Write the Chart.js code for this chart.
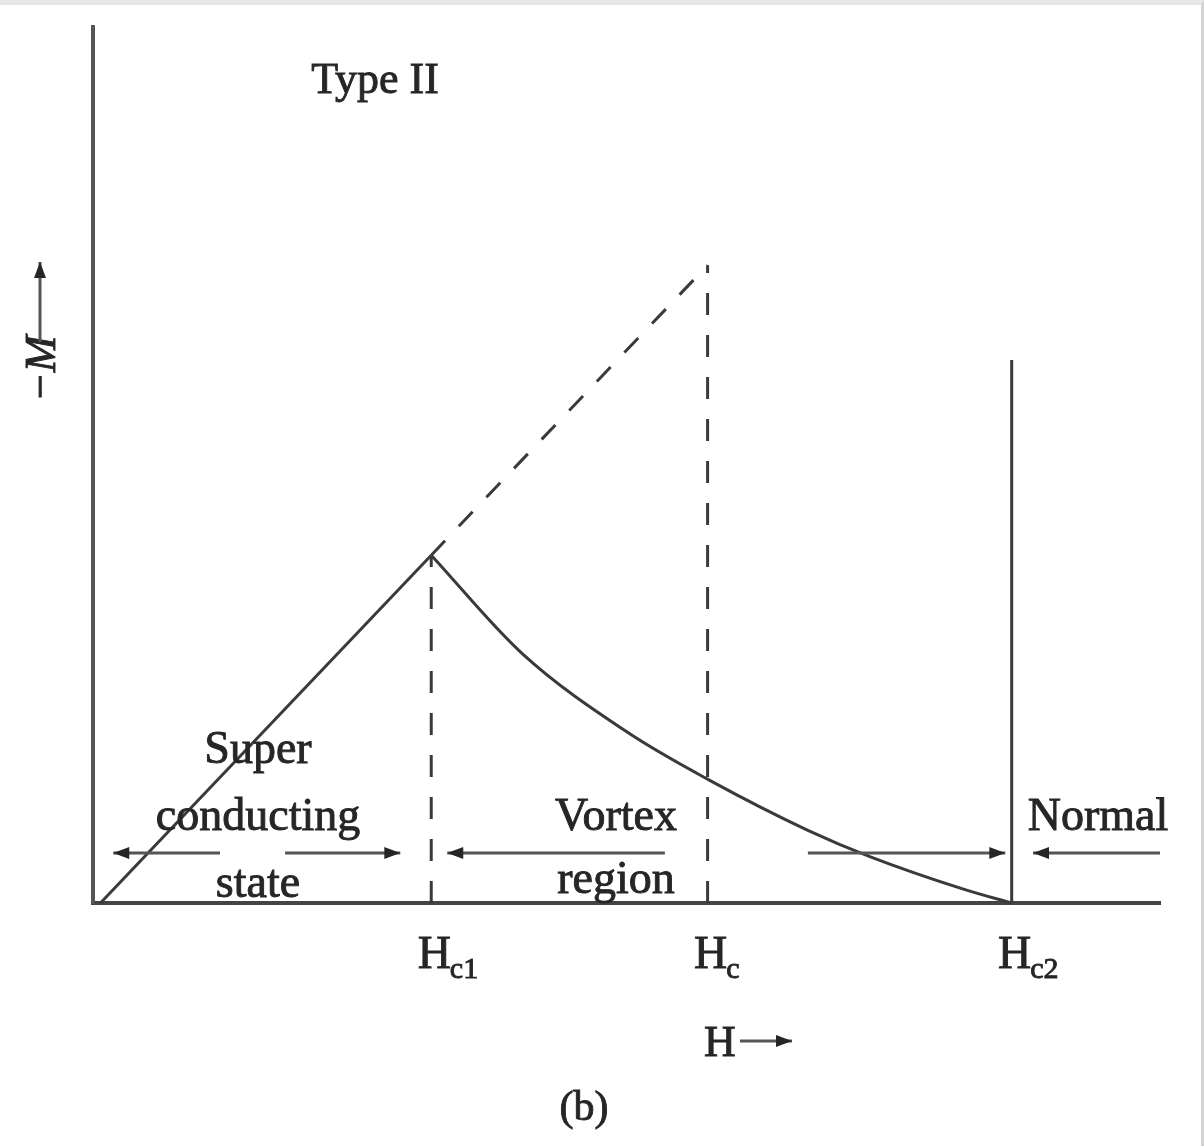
<!DOCTYPE html>
<html>
<head>
<meta charset="utf-8">
<script src="https://cdn.jsdelivr.net/npm/chart.js@4.4.0/dist/chart.umd.min.js"></script>
<style>
  html, body { margin: 0; padding: 0; background: #fff; }
  body { width: 1204px; height: 1146px; overflow: hidden; position: relative; }
  #chart { position: absolute; left: 0; top: 0; }
  #frame { position: absolute; left: 0; top: 0; width: 1204px; height: 1146px; box-sizing: border-box;
           border-top: 5px solid #e6e6e6; border-right: 3px solid #d4d4d4; pointer-events: none; }
</style>
</head>
<body>
<canvas id="chart" width="1204" height="1146"></canvas>
<div id="frame"></div>
<script>
// critical fields on the H axis
const fieldNames = ['c1', 'c', 'c2'];
const criticalFields = [3.17, 5.76, 8.61];

// Meissner (superconducting) branch: -M rises linearly with H
const meissnerH = [0.07, 3.17];
const meissnerM = [0, 3.97];

// dashed extrapolation of the linear branch up to Hc
const extrapH = [3.17, 5.76];
const extrapM = [3.97, 7.28];

// vortex (mixed) state: -M falls from Hc1 to zero at Hc2
const vortexH = [3.17, 4.02, 5.02, 5.78, 6.70, 7.28, 8.18, 8.61];
const vortexM = [3.97, 2.85, 1.94, 1.40, 0.83, 0.53, 0.15, 0];

// heights of the vertical markers at Hc1, Hc, Hc2
const markerTops = [3.97, 7.28, 6.20];

const ink = '#3a3a3a';
const textInk = '#262626';
const serif = '"Liberation Serif", "DejaVu Serif", serif';

function pts(xs, ys) {
    return xs.map((x, i) => ({ x: x, y: ys[i] }));
}

function lineSet(data, extra) {
    return Object.assign({
        data: data,
        showLine: true,
        borderColor: ink,
        borderWidth: 3,
        pointRadius: 0,
        fill: false,
        clip: false
    }, extra || {});
}

function arrowHead(ctx, x, y, dir) {
    ctx.beginPath();
    ctx.moveTo(x, y);
    ctx.lineTo(x - dir * 16, y - 6);
    ctx.lineTo(x - dir * 16, y + 6);
    ctx.closePath();
    ctx.fill();
}

function hArrow(ctx, x1, x2, y, headAt) {
    ctx.beginPath();
    ctx.moveTo(x1, y);
    ctx.lineTo(x2, y);
    ctx.stroke();
    if (headAt === 'left') arrowHead(ctx, x1, y, -1);
    if (headAt === 'right') arrowHead(ctx, x2, y, 1);
}

// scanned print looks a bit heavy, so fill and lightly stroke the text
function inkText(ctx, s, x, y) {
    ctx.fillText(s, x, y);
    ctx.save();
    ctx.lineWidth = 0.9;
    ctx.strokeStyle = textInk;
    ctx.strokeText(s, x, y);
    ctx.restore();
}

const annotate = {
    id: 'annotate',
    afterDraw(chart) {
        const ctx = chart.ctx;
        const xs = chart.scales.x, ys = chart.scales.y;
        const px = v => xs.getPixelForValue(v);
        const py = v => ys.getPixelForValue(v);
        ctx.save();
        ctx.fillStyle = textInk;
        ctx.strokeStyle = '#555';
        ctx.lineWidth = 3;
        ctx.textAlign = 'center';
        ctx.textBaseline = 'alphabetic';

        // tick labels H_c1, H_c, H_c2
        xs.ticks.forEach((t, i) => {
            const x = px(t.value) + 3;
            ctx.font = '46px ' + serif;
            const wH = ctx.measureText('H').width;
            ctx.textAlign = 'center';
            inkText(ctx, 'H', x, 968);
            ctx.font = '30px ' + serif;
            ctx.textAlign = 'left';
            inkText(ctx, fieldNames[i], x + wH / 2 - 1, 978);
        });

        ctx.textAlign = 'center';
        ctx.font = '44px ' + serif;
        inkText(ctx, 'Type II', 375, 93);

        ctx.font = '46px ' + serif;
        inkText(ctx, 'Super', 258, 763);
        inkText(ctx, 'conducting', 258, 830);
        inkText(ctx, 'state', 258, 897);
        inkText(ctx, 'Vortex', 616, 830);
        inkText(ctx, 'region', 616, 893);
        inkText(ctx, 'Normal', 1098, 830);

        // region arrows
        const ay = py(0.57);
        hArrow(ctx, px(0.19), px(1.19), ay, 'left');
        hArrow(ctx, px(1.80), px(2.88), ay, 'right');
        hArrow(ctx, px(3.32), px(5.36), ay, 'left');
        hArrow(ctx, px(6.70), px(8.55), ay, 'right');
        hArrow(ctx, px(8.81), px(10), ay, 'left');

        // axis titles
        ctx.font = '44px ' + serif;
        ctx.textAlign = 'left';
        inkText(ctx, 'H', 704, 1056);
        hArrow(ctx, 740, 792, 1041, 'right');

        ctx.textAlign = 'center';
        ctx.font = '42px ' + serif;
        inkText(ctx, '(b)', 584, 1120);

        ctx.save();
        ctx.translate(55, 402);
        ctx.rotate(-Math.PI / 2);
        ctx.textAlign = 'left';
        ctx.font = 'italic 44px ' + serif;
        inkText(ctx, '\u2212M', 0, 0);
        hArrow(ctx, 60, 140, -15, 'right');
        ctx.restore();

        ctx.restore();
    }
};

const ctx = document.getElementById('chart').getContext('2d');
new Chart(ctx, {
    type: 'scatter',
    data: {
        datasets: [
            lineSet(pts(meissnerH, meissnerM)),
            lineSet(pts(extrapH, extrapM), { borderDash: [20, 20] }),
            lineSet(pts(vortexH, vortexM), { tension: 0.4, cubicInterpolationMode: 'monotone' }),
            lineSet(pts([criticalFields[0], criticalFields[0]], [0, markerTops[0]]), { borderDash: [22, 20] }),
            lineSet(pts([criticalFields[1], criticalFields[1]], [0, markerTops[1]]), { borderDash: [22, 20] }),
            lineSet(pts([criticalFields[2], criticalFields[2]], [0, markerTops[2]]))
        ]
    },
    options: {
        responsive: false,
        animation: false,
        layout: { padding: { left: 93, right: 44, top: 27, bottom: 243 } },
        plugins: { legend: { display: false }, tooltip: { enabled: false } },
        scales: {
            x: {
                type: 'linear', min: 0, max: 10,
                grid: { display: false, drawTicks: false },
                ticks: { display: false },
                border: { display: true, color: '#444', width: 4 },
                afterBuildTicks: s => { s.ticks = criticalFields.map(v => ({ value: v })); }
            },
            y: {
                type: 'linear', min: 0, max: 10,
                grid: { display: false, drawTicks: false },
                ticks: { display: false },
                border: { display: true, color: '#555', width: 4 }
            }
        }
    },
    plugins: [annotate]
});
</script>
</body>
</html>
